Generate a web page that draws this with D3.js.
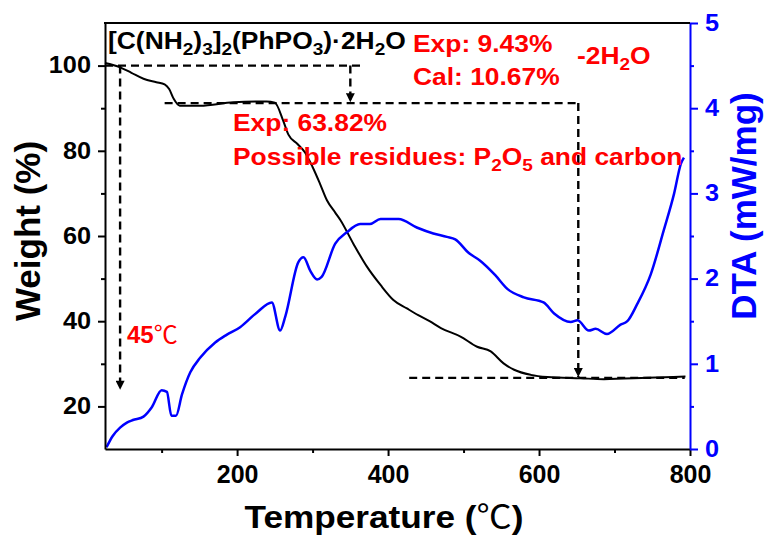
<!DOCTYPE html>
<html>
<head>
<meta charset="utf-8">
<script src="https://cdn.jsdelivr.net/npm/d3@7"></script>
<style>
body { margin: 0; background: #fff; }
svg { display: block; }
</style>
</head>
<body>
<script>
"use strict";

// TGA curve (temperature in C, weight in %)
var tgaTemp = [25, 45, 60, 76, 93, 104, 110, 116, 124, 151, 195, 239, 250, 261, 268, 280, 290, 300, 310, 319, 330, 337, 354, 372, 390, 407, 425, 440, 455, 470, 496, 518, 536, 553, 567, 589, 611, 655, 686, 743, 794];
var tgaWeight = [100.6, 99.6, 98.3, 96.9, 96.1, 95.6, 94.5, 92.2, 90.6, 90.6, 91.4, 91.6, 91.3, 87.1, 83.8, 81.6, 79.6, 76.2, 72.2, 68.4, 65.5, 63.7, 58.2, 52.8, 48.5, 45.0, 43.0, 41.4, 40.0, 38.4, 36.4, 34.0, 32.9, 30.1, 28.6, 27.4, 26.9, 26.6, 26.4, 26.7, 27.0];

// DTA curve (temperature in C, mW/mg)
var dtaTemp = [27, 35, 45, 54, 62, 76, 87, 100, 107, 113, 119, 127, 138, 151, 171, 186, 204, 226, 246, 257, 264, 281, 288, 297, 306, 312, 330, 345, 363, 376, 390, 414, 438, 460, 478, 489, 507, 522, 542, 558, 580, 606, 620, 642, 651, 666, 675, 690, 708, 717, 730, 748, 765, 779, 788, 792];
var dtaValue = [0.02, 0.15, 0.25, 0.31, 0.34, 0.38, 0.49, 0.69, 0.67, 0.39, 0.39, 0.64, 0.90, 1.07, 1.25, 1.34, 1.43, 1.60, 1.72, 1.39, 1.56, 2.19, 2.25, 2.09, 1.99, 2.02, 2.41, 2.54, 2.64, 2.64, 2.70, 2.70, 2.60, 2.53, 2.49, 2.46, 2.30, 2.21, 2.04, 1.88, 1.78, 1.72, 1.59, 1.49, 1.51, 1.39, 1.41, 1.35, 1.46, 1.50, 1.70, 2.05, 2.56, 3.00, 3.35, 3.42];

var tempTicks = [200, 400, 600, 800];
var tempMinor = [100, 300, 500, 700];
var weightTicks = [20, 40, 60, 80, 100];
var weightMinor = [30, 50, 70, 90];
var dtaTicks = [0, 1, 2, 3, 4, 5];
var dtaMinor = [0.5, 1.5, 2.5, 3.5, 4.5];

// dashed guides: [t, w] start and end, arrow at end or not
var guideFrom = [[25, 100], [350, 100], [104, 91.2], [652, 91.2], [428, 26.7], [45, 100]];
var guideTo = [[367, 100], [350, 91.4], [652, 91.2], [652, 26.9], [793, 26.7], [45, 23.9]];
var guideArrow = [false, true, false, true, false, true];

var width = 765;
var height = 540;
var margin = { top: 23, left: 105, right: 75, bottom: 91 };
var SX = 1.1;
var FONT = "Arial, 'Liberation Sans', sans-serif";
var BLUE = "#0000ff";
var RED = "#ff0000";

var svg = d3.select("body").append("svg")
	.attr("width", width)
	.attr("height", height)
	.style("font-family", FONT);

var xScale = d3.scaleLinear().domain([25, 800]).range([margin.left, width - margin.right]);
var yScale = d3.scaleLinear().domain([10, 110]).range([height - margin.bottom, margin.top]);
var dScale = d3.scaleLinear().domain([0, 5]).range([height - margin.bottom, margin.top]);

svg.append("defs").append("marker")
	.attr("id", "arrow")
	.attr("markerUnits", "userSpaceOnUse")
	.attr("viewBox", "0 0 10 10")
	.attr("refX", 10).attr("refY", 5)
	.attr("markerWidth", 13).attr("markerHeight", 9)
	.attr("orient", "auto")
	.append("path")
	.attr("d", "M0,0L10,5L0,10Z")
	.attr("fill", "#000");

// rich text: parts = [text, kind], kind "" | "sub" | "deg"
function richText(parent, x, y, parts, o) {
	var g = parent.append("g")
		.attr("transform", "translate(" + x + "," + y + ")" + (o.rotate ? " rotate(" + o.rotate + ")" : "") + " scale(" + (o.sx || 1) + ",1)");
	var t = g.append("text")
		.attr("font-size", o.size)
		.attr("font-weight", o.weight || "bold")
		.attr("fill", o.color || "#000")
		.attr("text-anchor", o.anchor || "start");
	var shift = 0;
	parts.forEach(function(p) {
		var s = t.append("tspan").text(p[0]);
		var want = p[1] === "sub" ? Math.round(o.size * 0.24) : 0;
		if (want !== shift) { s.attr("dy", want - shift); shift = want; }
		if (p[1] === "sub") s.attr("font-size", o.size * 0.72);
		if (p[1] === "deg") s.attr("font-family", "'Noto Sans CJK SC', sans-serif").attr("font-weight", "normal");
	});
	return g;
}

// curves
var tga = tgaTemp.map(function(t, i) { return [t, tgaWeight[i]]; });
var dta = dtaTemp.map(function(t, i) { return [t, dtaValue[i]]; });

svg.append("path")
	.datum(tga)
	.attr("fill", "none")
	.attr("stroke", "#000")
	.attr("stroke-width", 2)
	.attr("d", d3.line().curve(d3.curveMonotoneX)
		.x(function(d) { return xScale(d[0]); })
		.y(function(d) { return yScale(d[1]); }));

svg.append("path")
	.datum(dta)
	.attr("fill", "none")
	.attr("stroke", BLUE)
	.attr("stroke-width", 2.5)
	.attr("d", d3.line().curve(d3.curveMonotoneX)
		.x(function(d) { return xScale(d[0]); })
		.y(function(d) { return dScale(d[1]); }));

// dashed guides
svg.append("g").selectAll("line")
	.data(guideFrom)
	.enter().append("line")
	.attr("x1", function(d) { return xScale(d[0]); })
	.attr("y1", function(d) { return yScale(d[1]); })
	.attr("x2", function(d, i) { return xScale(guideTo[i][0]); })
	.attr("y2", function(d, i) { return yScale(guideTo[i][1]); })
	.attr("stroke", "#000")
	.attr("stroke-width", 2.4)
	.attr("stroke-dasharray", "8,5")
	.attr("marker-end", function(d, i) { return guideArrow[i] ? "url(#arrow)" : null; });

// axes
function styleAxis(g, color) {
	g.select(".domain").attr("stroke", color).attr("stroke-width", 2);
	g.selectAll(".tick line").attr("stroke", color).attr("stroke-width", 2);
	g.selectAll("text").attr("fill", color).attr("font-family", FONT).attr("font-weight", "bold");
}

function stretchLabels(g) {
	g.selectAll("text").attr("font-size", 23).each(function() {
		var x = +this.getAttribute("x");
		d3.select(this).attr("x", 0).attr("transform", "translate(" + x + ",0) scale(" + SX + ",1)");
	});
}

function minorTicks(axis, color) {
	return function(g) {
		g.call(axis.tickSize(4).tickSizeOuter(0).tickFormat(""));
		g.select(".domain").remove();
		g.selectAll("line").attr("stroke", color).attr("stroke-width", 2);
	};
}

var xAxis = svg.append("g")
	.attr("transform", "translate(0," + (height - margin.bottom) + ")")
	.call(d3.axisBottom(xScale).tickValues(tempTicks).tickSize(7).tickSizeOuter(0).tickPadding(9));
styleAxis(xAxis, "#000");
xAxis.selectAll("text").attr("font-size", 25);
svg.append("g")
	.attr("transform", "translate(0," + (height - margin.bottom) + ")")
	.call(minorTicks(d3.axisBottom(xScale).tickValues(tempMinor), "#000"));

var yAxis = svg.append("g")
	.attr("transform", "translate(" + margin.left + ",0)")
	.call(d3.axisLeft(yScale).tickValues(weightTicks).tickSize(7).tickSizeOuter(0).tickPadding(7));
styleAxis(yAxis, "#000");
stretchLabels(yAxis);
svg.append("g")
	.attr("transform", "translate(" + margin.left + ",0)")
	.call(minorTicks(d3.axisLeft(yScale).tickValues(weightMinor), "#000"));

var dAxis = svg.append("g")
	.attr("transform", "translate(" + (width - margin.right) + ",0)")
	.call(d3.axisRight(dScale).tickValues(dtaTicks).tickFormat(d3.format("d")).tickSize(8).tickSizeOuter(0).tickPadding(7));
styleAxis(dAxis, BLUE);
stretchLabels(dAxis);
svg.append("g")
	.attr("transform", "translate(" + (width - margin.right) + ",0)")
	.call(minorTicks(d3.axisRight(dScale).tickValues(dtaMinor), BLUE));

// top frame
svg.append("line")
	.attr("x1", margin.left - 1).attr("x2", width - margin.right)
	.attr("y1", margin.top).attr("y2", margin.top)
	.attr("stroke", "#000").attr("stroke-width", 2);

// axis titles
richText(svg, 384, 528, [["Temperature (", ""], ["\u2103", "deg"], [")", ""]], { size: 32, sx: 1.1, anchor: "middle" });
richText(svg, 40, 231, [["Weight (%)", ""]], { size: 35, rotate: -90, anchor: "middle" });
richText(svg, 756, 206, [["DTA (mW/mg)", ""]], { size: 35, rotate: -90, anchor: "middle", color: BLUE });

// annotations
richText(svg, 108, 49, [["[C(NH", ""], ["2", "sub"], [")", ""], ["3", "sub"], ["]", ""], ["2", "sub"], ["(PhPO", ""], ["3", "sub"], [")\u00b72H", ""], ["2", "sub"], ["O", ""]], { size: 24, sx: SX });
richText(svg, 413, 52, [["Exp: 9.43%", ""]], { size: 24, sx: SX, color: RED });
richText(svg, 413, 85, [["Cal: 10.67%", ""]], { size: 24, sx: SX, color: RED });
richText(svg, 577, 64, [["-2H", ""], ["2", "sub"], ["O", ""]], { size: 24, sx: SX, color: RED });
richText(svg, 233, 131, [["Exp: 63.82%", ""]], { size: 24, sx: SX, color: RED });
richText(svg, 233, 165, [["Possible residues: P", ""], ["2", "sub"], ["O", ""], ["5", "sub"], [" and carbon", ""]], { size: 24, sx: SX, color: RED });
richText(svg, 127, 343, [["45", ""], ["\u2103", "deg"]], { size: 24, color: RED });
</script>
</body>
</html>
